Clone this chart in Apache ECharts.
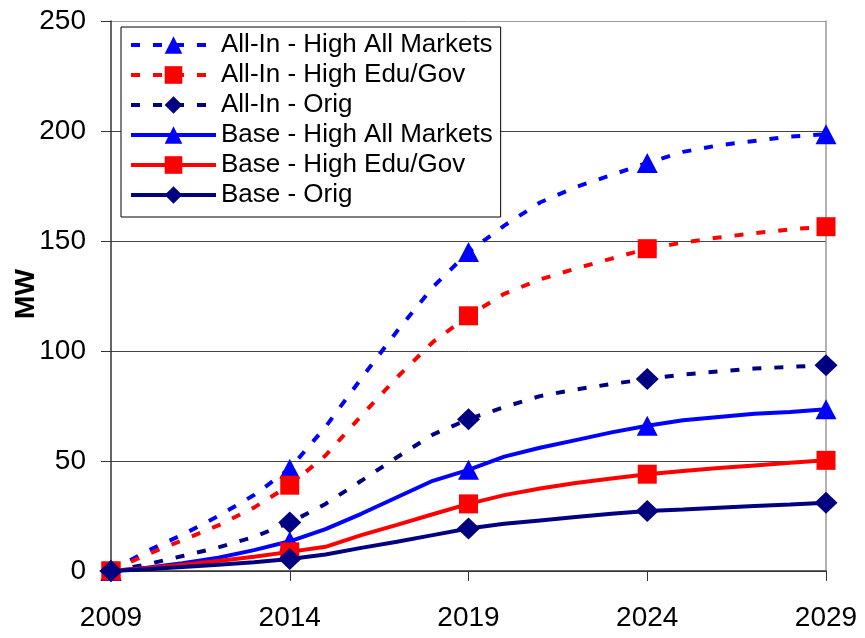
<!DOCTYPE html>
<html>
<head>
<meta charset="utf-8">
<script src="https://cdn.jsdelivr.net/npm/echarts@6/dist/echarts.min.js"></script>
<style>html,body{margin:0;padding:0;background:#fff}#c{width:865px;height:638px}</style>
</head>
<body>
<div id="c"></div>
<script>
var years = ['2009','2010','2011','2012','2013','2014','2015','2016','2017','2018','2019','2020','2021','2022','2023','2024','2025','2026','2027','2028','2029'];
var yTicks = [0, 50, 100, 150, 200, 250];
var yTitle = 'MW';
var allInHighAll = [0, 9, 16.5, 25, 34.5, 46.5, 65.5, 87.5, 109, 129, 145, 157, 167.5, 174.5, 180, 185.5, 190.5, 193.5, 195.5, 197.5, 198.5];
var allInHighEdu = [0, 7.5, 14, 20.7, 28.8, 39, 52.5, 70.5, 88, 104, 116, 126, 132.5, 137.5, 142, 146.5, 149.3, 151.6, 153.5, 155.3, 156.5];
var allInOrig = [0, 3, 6.8, 10.7, 15.5, 22, 30.5, 41, 51.7, 62, 69, 74.5, 79.5, 82.5, 85, 87.3, 89.3, 90.7, 92, 92.8, 93.5];
var baseHighAll = [0, 1.5, 3.5, 6, 9.5, 13.5, 19, 26, 33.5, 41, 46, 52, 56, 59.5, 63, 66, 68.5, 70, 71.5, 72.3, 73.5];
var baseHighEdu = [0, 1.2, 2.8, 4.5, 6.5, 8.7, 11, 16.3, 21, 25.8, 30.5, 34.5, 37.5, 40, 42, 44, 45.5, 46.8, 48, 49.2, 50.3];
var baseOrig = [0, 0.8, 1.8, 2.8, 4, 5.5, 7.5, 10.5, 13.3, 16.3, 19.3, 21.5, 23, 24.5, 26, 27.3, 28, 28.8, 29.5, 30.2, 31];
var names = ['All-In - High All Markets','All-In - High Edu/Gov','All-In - Orig','Base - High All Markets','Base - High Edu/Gov','Base - Orig'];

var FONT = '"Liberation Sans", Arial, sans-serif';
var BLUE = '#0000ff', RED = '#ff0000', NAVY = '#000080';
var DASH = [9, 13];

function mk(name, vals, color, symbol, size, dashed) {
  return {
    name: name,
    type: 'line',
    data: vals.map(function (v, i) { return i % 5 === 0 ? v : { value: v, symbol: 'none' }; }),
    symbol: symbol,
    symbolSize: size,
    showAllSymbol: true,
    smooth: false,
    lineStyle: { color: color, width: 4, type: dashed ? DASH : 'solid' },
    itemStyle: { color: color },
    emphasis: { disabled: true },
    animation: false
  };
}

var chart = echarts.init(document.getElementById('c'), null, { renderer: 'canvas' });
chart.setOption({
  backgroundColor: '#fff',
  animation: false,
  textStyle: { fontFamily: FONT },
  grid: { left: 111, right: 39, top: 21, bottom: 67, containLabel: false, outerBoundsMode: 'none' },
  graphic: [{
    type: 'text',
    x: 26, y: 294,
    rotation: Math.PI / 2,
    silent: true,
    style: {
      text: yTitle, fill: '#000',
      font: 'bold 28px ' + FONT,
      align: 'center', verticalAlign: 'middle'
    }
  }],
  legend: {
    orient: 'vertical',
    left: 121, top: 27,
    padding: [5, 8, 9, 8],
    itemGap: 4,
    itemWidth: 85, itemHeight: 22,
    backgroundColor: '#fff',
    borderColor: '#000', borderWidth: 1,
    lineStyle: { width: 'inherit' },
    textStyle: { fontSize: 26, color: '#000', fontFamily: FONT },
    data: names,
    selectedMode: false
  },
  xAxis: {
    type: 'category',
    data: years,
    boundaryGap: false,
    axisLine: { lineStyle: { color: '#333', width: 1.5 } },
    axisTick: { show: true, interval: 4, length: 10, lineStyle: { color: '#333', width: 1 } },
    axisLabel: { interval: 4, fontSize: 28, color: '#000', margin: 33, fontFamily: FONT },
    splitLine: { show: false }
  },
  yAxis: [{
    type: 'value',
    min: yTicks[0], max: yTicks[yTicks.length - 1], interval: 50,
    axisLine: { show: true, lineStyle: { color: '#333', width: 1.5 } },
    axisTick: { show: true, length: 10, lineStyle: { color: '#333', width: 1 } },
    axisLabel: { fontSize: 28, color: '#000', margin: 25, fontFamily: FONT },
    splitLine: { show: true, lineStyle: { color: ['#444', '#444', '#444', '#444', '#444', '#999'], width: 1 } }
  }, {
    type: 'value', position: 'right', min: 0, max: 250,
    axisLine: { show: true, lineStyle: { color: '#999', width: 1.5 } },
    axisTick: { show: false }, axisLabel: { show: false }, splitLine: { show: false }
  }],
  series: [
    mk(names[0], allInHighAll, BLUE, 'triangle', [21, 20], true),
    mk(names[1], allInHighEdu, RED, 'rect', 19, true),
    mk(names[2], allInOrig, NAVY, 'diamond', [23, 22], true),
    mk(names[3], baseHighAll, BLUE, 'triangle', [21, 20], false),
    mk(names[4], baseHighEdu, RED, 'rect', 19, false),
    mk(names[5], baseOrig, NAVY, 'diamond', [23, 22], false)
  ]
});
</script>
</body>
</html>
